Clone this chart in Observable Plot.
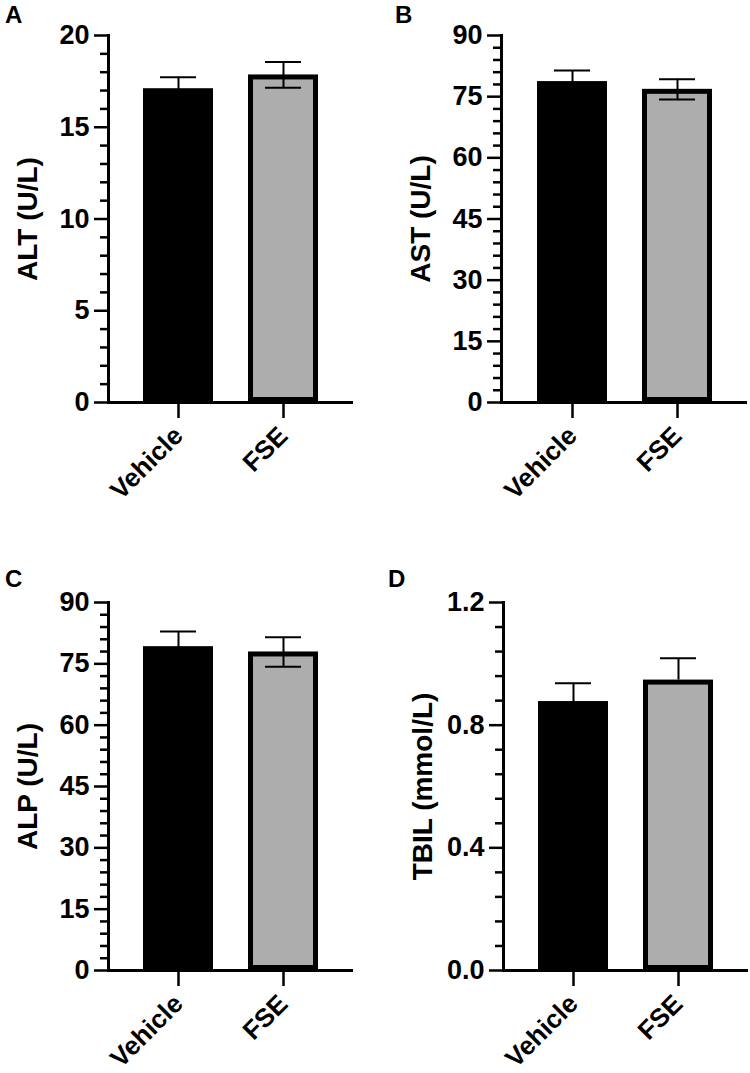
<!DOCTYPE html>
<html><head><meta charset="utf-8">
<script src="https://cdn.jsdelivr.net/npm/d3@7"></script>
<script src="https://cdn.jsdelivr.net/npm/@observablehq/plot@0.6"></script>
<style>
body{margin:0;background:#fff;}
#wrap{position:relative;width:750px;height:1073px;font-family:"Liberation Sans",Arial,Helvetica,sans-serif;color:#000;background:#fff;}
.panel{position:absolute;}
.letter{position:absolute;font-weight:bold;font-size:24px;line-height:1;}
</style></head><body><div id="wrap"></div>
<script>
// ---- data ----
const groups = ["Vehicle", "FSE"];
const altMean = [17.1, 17.85];
const altSem = [0.62, 0.7];
const astMean = [78.7, 76.8];
const astSem = [2.7, 2.5];
const alpMean = [79.2, 77.9];
const alpSem = [3.7, 3.6];
const tbilMean = [0.877, 0.947];
const tbilSem = [0.06, 0.071];
const panelLetters = ["A", "B", "C", "D"];
const panelTitles = ["ALT (U/L)", "AST (U/L)", "ALP (U/L)", "TBIL (mmol/L)"];
const altTicks = [0, 5, 10, 15, 20];
const astTicks = [0, 15, 30, 45, 60, 75, 90];
const alpTicks = [0, 15, 30, 45, 60, 75, 90];
const tbilTicks = [0, 0.4, 0.8, 1.2];
const minorSteps = [1, 3, 3, 0.08];
const showLower = [[true, true], [true, true], [true, true], [true, false]];

// ---- layout ----
const layouts = [
  {left: 0,   top: 0,   height: 536, mL: 108, mR: 22, mT: 35, mB: 134, letterX: 5,  letterY: 3},
  {left: 375, top: 0,   height: 536, mL: 126, mR: 3,  mT: 35, mB: 134, letterX: 20, letterY: 3},
  {left: 0,   top: 536, height: 537, mL: 108, mR: 22, mT: 66, mB: 103, letterX: 5,  letterY: 31},
  {left: 375, top: 536, height: 537, mL: 128, mR: 2,  mT: 66, mB: 103, letterX: 13, letterY: 31}
];
const series = [
  {mean: altMean, sem: altSem, ticks: altTicks, fmt: d3.format("d")},
  {mean: astMean, sem: astSem, ticks: astTicks, fmt: d3.format("d")},
  {mean: alpMean, sem: alpSem, ticks: alpTicks, fmt: d3.format("d")},
  {mean: tbilMean, sem: tbilSem, ticks: tbilTicks, fmt: d3.format(".1f")}
];

const wrap = document.getElementById("wrap");
const FONT = "'Liberation Sans', Arial, Helvetica, sans-serif";

series.forEach((s, p) => {
  const L = layouts[p];
  const data = groups.map((g, i) => ({
    group: g, mean: s.mean[i], sem: s.sem[i],
    hi: s.mean[i] + s.sem[i],
    lo: showLower[p][i] ? s.mean[i] - s.sem[i] : s.mean[i],
    lower: showLower[p][i]
  }));
  const ymax = s.ticks[s.ticks.length - 1];
  const minor = d3.range(0, ymax + minorSteps[p] / 2, minorSteps[p]).filter(v => !s.ticks.some(t => Math.abs(t - v) < 1e-9));

  const chart = Plot.plot({
    width: 375,
    height: L.height,
    marginLeft: L.mL, marginRight: L.mR, marginTop: L.mT, marginBottom: L.mB,
    style: {fontFamily: FONT, color: "#000", background: "transparent", overflow: "visible"},
    x: {domain: groups, padding: 1/3},
    y: {domain: [0, ymax]},
    color: {domain: groups, range: ["#000000", "#adadad"]},
    marks: [
      Plot.barY(data, {x: "group", y: "mean", fill: "group", stroke: "#000", strokeWidth: 5, inset: 2.5}),
      Plot.ruleX(data, {x: "group", y1: "lo", y2: "hi", stroke: "#000", strokeWidth: 2}),
      Plot.tickY(data, {x: "group", y: "hi", stroke: "#000", strokeWidth: 2, insetLeft: 17, insetRight: 17}),
      Plot.tickY(data.filter(d => d.lower), {x: "group", y: "lo", stroke: "#000", strokeWidth: 2, insetLeft: 17, insetRight: 17}),
      Plot.axisY(minor, {tickSize: 8, tickFormat: () => "", strokeWidth: 2.5, label: null}),
      Plot.axisY(s.ticks, {tickSize: 14, tickPadding: 5, tickFormat: s.fmt, strokeWidth: 2.5, fontSize: 27, fontWeight: "bold", label: null}),
      Plot.frame({anchor: "left", strokeWidth: 3}),
      Plot.ruleY([0], {strokeWidth: 3}),
      Plot.axisX({tickSize: 16, tickRotate: -45, tickPadding: 13, strokeWidth: 2.5, fontSize: 26, fontWeight: "bold", label: null}),
      Plot.text([panelTitles[p]], {frameAnchor: "left", textAnchor: "middle", rotate: -90, dx: -80, fontSize: 28, fontWeight: "bold"})
    ]
  });
  const div = document.createElement("div");
  div.className = "panel";
  div.style.left = L.left + "px";
  div.style.top = L.top + "px";
  div.appendChild(chart);
  wrap.appendChild(div);

  const letter = document.createElement("div");
  letter.className = "letter";
  letter.textContent = panelLetters[p];
  letter.style.left = (L.left + L.letterX) + "px";
  letter.style.top = (L.top + L.letterY) + "px";
  wrap.appendChild(letter);
});
</script>
</body></html>
